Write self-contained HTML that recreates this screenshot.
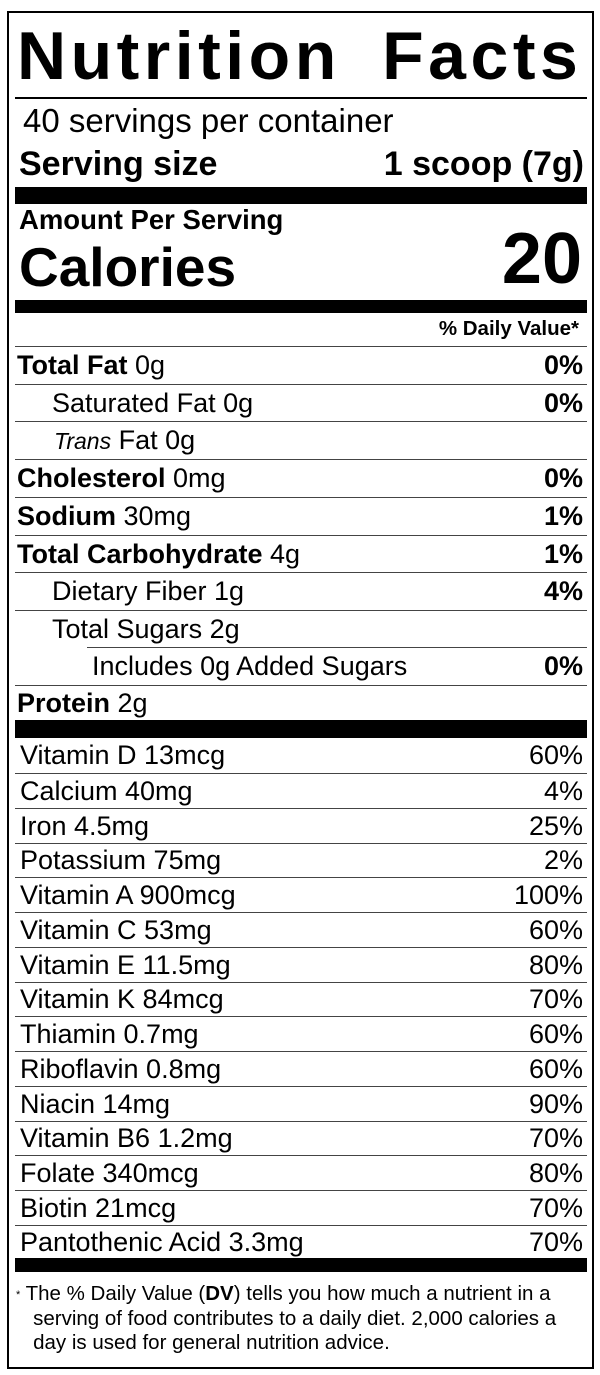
<!DOCTYPE html>
<html><head><style>
*{margin:0;padding:0;box-sizing:border-box}
body{width:600px;height:1375px;background:#fff;font-family:"Liberation Sans",Arial,sans-serif;color:#000;position:relative;overflow:hidden}
.box{position:absolute;left:7px;top:11px;width:587px;height:1358px;border:2px solid #000}
.a{position:absolute;white-space:nowrap}
.hl{position:absolute;left:15px;width:572px;background:#000}
.row{position:absolute;left:15px;width:572px;font-size:27px;border-top:1px solid #444;display:flex;justify-content:space-between;align-items:center}
.row b{font-weight:bold}
.pct{font-weight:bold;padding-right:4px}
</style></head><body>
<div class="box"></div>
<div class="a" style="left:17px;top:17px;font-size:68px;font-weight:bold;letter-spacing:4.5px;word-spacing:18px;">Nutrition Facts</div>
<div class="hl" style="top:97px;height:2px"></div>
<div class="a" style="left:23px;top:102px;font-size:33px">40 servings per container</div>
<div class="a" style="left:19px;top:145px;font-size:34px;font-weight:bold">Serving size</div>
<div class="a" style="right:16px;top:145px;font-size:34px;font-weight:bold">1 scoop (7g)</div>
<div class="hl" style="top:187px;height:17px"></div>
<div class="a" style="left:19px;top:204px;font-size:27.5px;font-weight:bold">Amount Per Serving</div>
<div class="a" style="left:19px;top:235px;font-size:55px;font-weight:bold">Calories</div>
<div class="a" style="right:18px;top:218px;font-size:72px;font-weight:bold">20</div>
<div class="hl" style="top:300px;height:13px"></div>
<div class="a" style="right:21px;top:317px;font-size:20.5px;font-weight:bold">% Daily Value*</div>

<div class="row" style="top:346px;height:38px"><span style="padding-left:2px"><b>Total Fat</b> 0g</span><span class="pct">0%</span></div>
<div class="row" style="top:384px;height:37px"><span style="padding-left:37px">Saturated Fat 0g</span><span class="pct">0%</span></div>
<div class="row" style="top:421px;height:38px"><span style="padding-left:39px"><i style="font-size:23px">Trans</i> Fat 0g</span><span></span></div>
<div class="row" style="top:459px;height:38px"><span style="padding-left:2px"><b>Cholesterol</b> 0mg</span><span class="pct">0%</span></div>
<div class="row" style="top:497px;height:38px"><span style="padding-left:2px"><b>Sodium</b> 30mg</span><span class="pct">1%</span></div>
<div class="row" style="top:535px;height:37px"><span style="padding-left:2px"><b>Total Carbohydrate</b> 4g</span><span class="pct">1%</span></div>
<div class="row" style="top:572px;height:38px"><span style="padding-left:37px">Dietary Fiber 1g</span><span class="pct">4%</span></div>
<div class="row" style="top:610px;height:37px"><span style="padding-left:37px">Total Sugars 2g</span><span></span></div>
<div class="row" style="top:647px;height:38px;left:87px;width:500px"><span style="padding-left:5px">Includes 0g Added Sugars</span><span class="pct">0%</span></div>
<div class="row" style="top:685px;height:35px"><span style="padding-left:2px"><b>Protein</b> 2g</span><span></span></div>
<div class="hl" style="top:720px;height:18px"></div>

<div class="row" style="top:738px;height:35px;border-top:none"><span style="padding-left:5px">Vitamin D 13mcg</span><span style="padding-right:4px">60%</span></div>
<div class="row" style="top:773px;height:35px"><span style="padding-left:5px">Calcium 40mg</span><span style="padding-right:4px">4%</span></div>
<div class="row" style="top:808px;height:35px"><span style="padding-left:5px">Iron 4.5mg</span><span style="padding-right:4px">25%</span></div>
<div class="row" style="top:843px;height:34px"><span style="padding-left:5px">Potassium 75mg</span><span style="padding-right:4px">2%</span></div>
<div class="row" style="top:877px;height:35px"><span style="padding-left:5px">Vitamin A 900mcg</span><span style="padding-right:4px">100%</span></div>
<div class="row" style="top:912px;height:35px"><span style="padding-left:5px">Vitamin C 53mg</span><span style="padding-right:4px">60%</span></div>
<div class="row" style="top:947px;height:35px"><span style="padding-left:5px">Vitamin E 11.5mg</span><span style="padding-right:4px">80%</span></div>
<div class="row" style="top:982px;height:34px"><span style="padding-left:5px">Vitamin K 84mcg</span><span style="padding-right:4px">70%</span></div>
<div class="row" style="top:1016px;height:35px"><span style="padding-left:5px">Thiamin 0.7mg</span><span style="padding-right:4px">60%</span></div>
<div class="row" style="top:1051px;height:35px"><span style="padding-left:5px">Riboflavin 0.8mg</span><span style="padding-right:4px">60%</span></div>
<div class="row" style="top:1086px;height:35px"><span style="padding-left:5px">Niacin 14mg</span><span style="padding-right:4px">90%</span></div>
<div class="row" style="top:1121px;height:34px"><span style="padding-left:5px">Vitamin B6 1.2mg</span><span style="padding-right:4px">70%</span></div>
<div class="row" style="top:1155px;height:35px"><span style="padding-left:5px">Folate 340mcg</span><span style="padding-right:4px">80%</span></div>
<div class="row" style="top:1190px;height:35px"><span style="padding-left:5px">Biotin 21mcg</span><span style="padding-right:4px">70%</span></div>
<div class="row" style="top:1225px;height:33px"><span style="padding-left:5px">Pantothenic Acid 3.3mg</span><span style="padding-right:4px">70%</span></div>
<div class="hl" style="top:1258px;height:14px"></div>

<div class="a" style="left:16px;top:1282px;font-size:20.5px;line-height:24px;white-space:normal;width:575px"><span style="font-size:11px;vertical-align:2px">*</span> The % Daily Value (<b>DV</b>) tells you how much a nutrient in a<br>&nbsp;&nbsp;&nbsp;serving of food contributes to a daily diet. 2,000 calories a<br>&nbsp;&nbsp;&nbsp;day is used for general nutrition advice.</div>
</body></html>
